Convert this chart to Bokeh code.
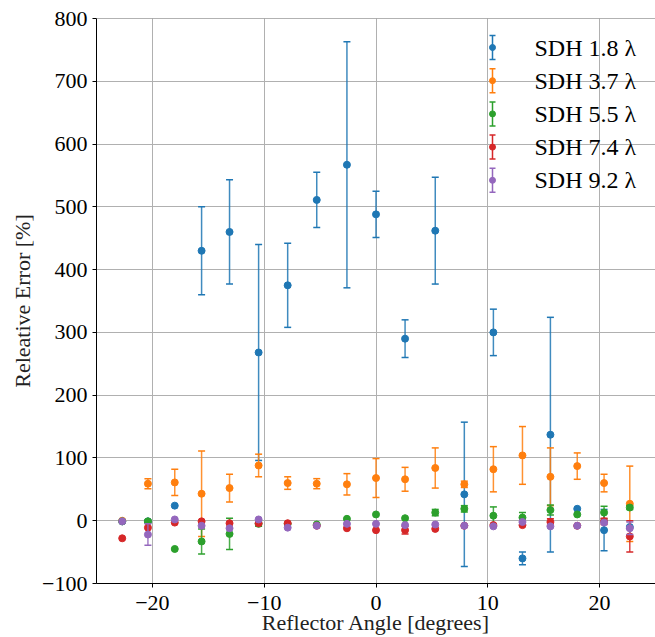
from bokeh.plotting import figure
from bokeh.models import FixedTicker, Span, Label, Arrow, TeeHead, BoxAnnotation, Range1d
from bokeh.embed import file_html
from bokeh.resources import INLINE

# ---------------- data ----------------
angles = [-22.7, -20.4, -18.0, -15.6, -13.1, -10.5, -7.9, -5.3, -2.6, 0.0,
          2.6, 5.3, 7.9, 10.5, 13.1, 15.6, 18.0, 20.4, 22.7]

sdh_1_8 = [-1, -1, 24, 430, 460, 268, 375, 511, 567, 488, 290, 462, 42, 300, -60, 137, 19, -15, -10]
sdh_1_8_err = [0, 0, 0, 70, 83, 172, 67, 44, 196, 37, 30, 85, 115, 37, 10, 187, 0, 33, 0]

sdh_3_7 = [0, 59, 61, 43, 52, 88, 60, 59, 58, 68, 66, 84, 58, 82, 104, 70, 87, 60, 27]
sdh_3_7_err = [0, 8, 21, 68, 22, 18, 10, 8, 17, 31, 19, 32, 5, 36, 46, 46, 21, 14, 60]

sdh_5_5 = [-1, -1, -45, -33, -21, -5, -5, -6, 3, 10, 4, 13, 19, 8, 5, 17, 10, 13, 21]
sdh_5_5_err = [0, 2, 0, 20, 25, 4, 0, 0, 0, 0, 0, 5, 5, 14, 8, 8, 0, 10, 3]

sdh_7_4 = [-28, -11, -3, -1, -4, -4, -4, -8, -12, -15, -15, -13, -8, -7, -7, -2, -8, -1, -25]
sdh_7_4_err = [0, 0, 0, 0, 0, 0, 0, 0, 0, 0, 6, 0, 0, 0, 0, 5, 0, 5, 25]

sdh_9_2 = [-1, -22, 2, -8, -12, 2, -11, -8, -5, -5, -7, -6, -8, -9, -2, -9, -8, -3, -12]
sdh_9_2_err = [0, 17, 0, 0, 0, 0, 0, 0, 0, 0, 0, 0, 0, 0, 0, 0, 0, 0, 10]

series_labels = ["SDH 1.8 λ", "SDH 3.7 λ", "SDH 5.5 λ", "SDH 7.4 λ", "SDH 9.2 λ"]
series_values = [sdh_1_8, sdh_3_7, sdh_5_5, sdh_7_4, sdh_9_2]
series_errors = [sdh_1_8_err, sdh_3_7_err, sdh_5_5_err, sdh_7_4_err, sdh_9_2_err]
colors = ["#1f77b4", "#ff7f0e", "#2ca02c", "#d62728", "#9467bd"]

x_ticks = [-20, -10, 0, 10, 20]
y_ticks = [-100, 0, 100, 200, 300, 400, 500, 600, 700, 800]

FONT = "Liberation Serif"

# ---------------- figure ----------------
p = figure(width=655, height=637, output_backend="svg", toolbar_location=None,
           x_range=Range1d(-25, 25), y_range=Range1d(-100, 800),
           min_border_left=96, min_border_right=0, min_border_top=18, min_border_bottom=54)
p.outline_line_color = None
p.background_fill_color = "white"
p.border_fill_color = "white"

for ax in (p.xaxis[0], p.yaxis[0]):
    ax.axis_line_color = "black"
    ax.axis_line_width = 1
    ax.major_tick_line_color = "black"
    ax.major_tick_out = 4
    ax.major_tick_in = 0
    ax.minor_tick_line_color = None
    ax.major_label_text_font = FONT
    ax.major_label_text_font_size = "22px"
    ax.major_label_text_color = "black"
    ax.axis_label_text_font = FONT
    ax.axis_label_text_font_size = "22px"
    ax.axis_label_text_font_style = "normal"
    ax.axis_label_text_color = "#222222"

p.xaxis[0].ticker = FixedTicker(ticks=x_ticks)
p.yaxis[0].ticker = FixedTicker(ticks=y_ticks)
p.xaxis[0].major_label_overrides = {t: (f"\u2212{abs(t)}" if t < 0 else str(t)) for t in x_ticks}
p.yaxis[0].major_label_overrides = {t: (f"\u2212{abs(t)}" if t < 0 else str(t)) for t in y_ticks}
p.xaxis[0].axis_label = "Reflector Angle [degrees]"
p.yaxis[0].axis_label = "Releative Error [%]"
p.xaxis[0].major_label_standoff = 8
p.xaxis[0].axis_label_standoff = -3
p.yaxis[0].major_label_standoff = 5
p.yaxis[0].axis_label_standoff = 4

p.xgrid.grid_line_color = "#b0b0b0"
p.ygrid.grid_line_color = "#b0b0b0"
p.xgrid.grid_line_width = 1
p.ygrid.grid_line_width = 1

p.add_layout(Span(location=800, dimension="width", line_color="#666666", line_width=1))

# ---------------- error bars + markers ----------------
for vals, errs, c in zip(series_values, series_errors, colors):
    xs = [a for a, e in zip(angles, errs) if e > 0]
    lo = [v - e for v, e in zip(vals, errs) if e > 0]
    hi = [v + e for v, e in zip(vals, errs) if e > 0]
    if xs:
        p.segment(x0=xs, y0=lo, x1=xs, y1=hi, line_color=c, line_width=1.5, line_alpha=0.85)
        p.scatter(x=xs + xs, y=lo + hi, marker="dash", size=7, line_color=c, line_width=1.5)
    p.scatter(x=angles, y=vals, marker="circle", size=7, fill_color=c, line_color=c)

# ---------------- legend (screen units, relative to plot frame) ----------------
leg_x = 396
leg_top = 536
leg_step = 33.2
for i, (lab, c) in enumerate(zip(series_labels, colors)):
    ly = leg_top - i * leg_step
    p.add_layout(Arrow(start=TeeHead(size=6, line_color=c, line_width=1.5),
                       end=TeeHead(size=6, line_color=c, line_width=1.5),
                       x_start=leg_x, y_start=ly - 12, x_end=leg_x, y_end=ly + 12,
                       start_units="screen", end_units="screen",
                       line_color=c, line_width=1.5, level="overlay"))
    p.add_layout(BoxAnnotation(left=leg_x - 3, right=leg_x + 3, bottom=ly - 3, top=ly + 3,
                               left_units="screen", right_units="screen",
                               bottom_units="screen", top_units="screen",
                               fill_color=c, fill_alpha=1, line_color=c, line_alpha=1,
                               border_radius=3, level="overlay"))
    p.add_layout(Label(x=leg_x + 42, y=ly, x_units="screen", y_units="screen", text=lab,
                       text_font=FONT, text_font_size="24px", text_baseline="middle",
                       text_align="left", text_color="black", level="overlay"))

open("out.html", "w").write(file_html(p, INLINE))
